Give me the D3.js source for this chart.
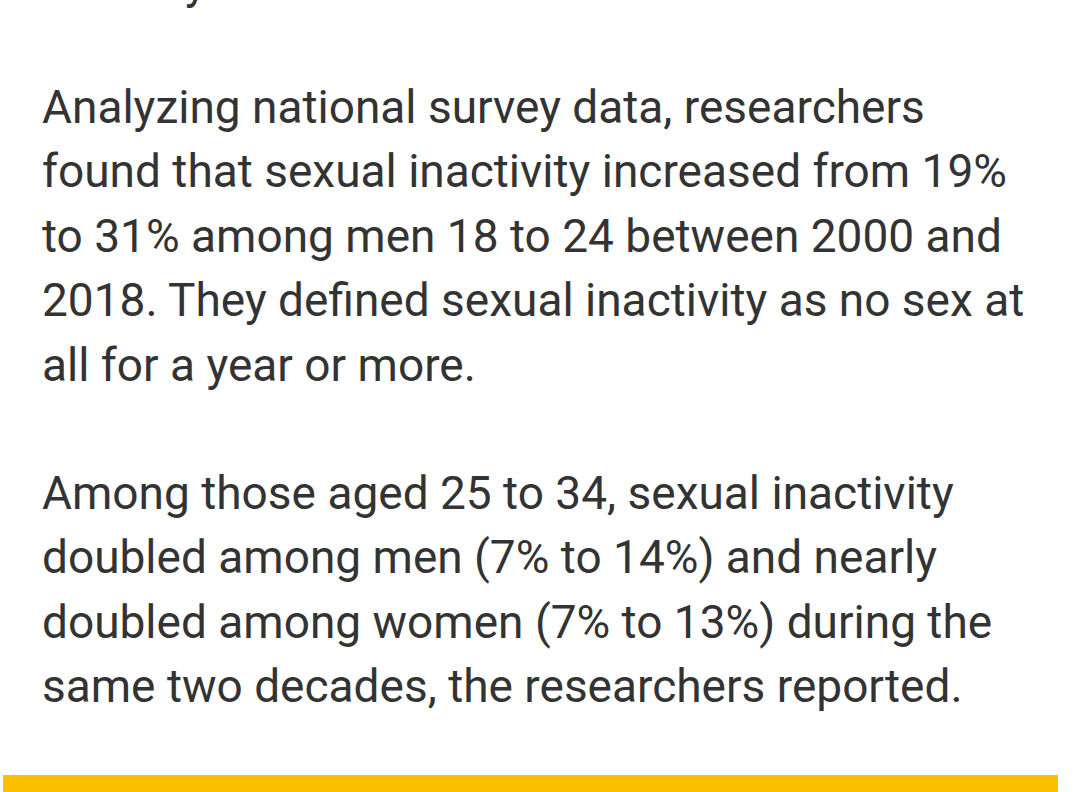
<!DOCTYPE html>
<html>
<head>
<meta charset="utf-8">
<script src="https://cdn.jsdelivr.net/npm/d3@7"></script>
<style>
  html, body { margin: 0; padding: 0; background: #fff; }
  svg { display: block; }
  .para { font-family: Roboto, "Noto Sans", sans-serif; fill: #333333; }
</style>
</head>
<body>
<svg width="1080" height="792"></svg>
<script>
// text content, one entry per rendered line
const paragraphOne = [
  "Analyzing national survey data, researchers",
  "found that sexual inactivity increased from 19%",
  "to 31% among men 18 to 24 between 2000 and",
  "2018. They defined sexual inactivity as no sex at",
  "all for a year or more."
];
const paragraphTwo = [
  "Among those aged 25 to 34, sexual inactivity",
  "doubled among men (7% to 14%) and nearly",
  "doubled among women (7% to 13%) during the",
  "same two decades, the researchers reported."
];
// tail of the line cut off at the top edge
const cutLine = ["y"];

const svg = d3.select("svg");
const W = 1080, H = 792;

svg.append("rect")
  .attr("width", W)
  .attr("height", H)
  .attr("fill", "#fff");

// line index -> baseline
const lineH = 64.4;
const fontSize = 46;
const y1 = d3.scaleLinear().domain([0, 1]).range([123, 123 + lineH]);
const y2 = d3.scaleLinear().domain([0, 1]).range([509, 509 + lineH]);

const drawPara = (lines, yScale, cls) => {
  svg.append("g")
    .attr("class", cls)
    .selectAll("text")
    .data(lines)
    .enter()
    .append("text")
    .attr("class", "para")
    .attr("x", 42)
    .attr("y", (d, i) => yScale(i))
    .attr("font-size", fontSize)
    .text(d => d);
};

drawPara(paragraphOne, y1, "p1");
drawPara(paragraphTwo, y2, "p2");

// only the descender shows, as in the source screenshot
svg.append("text")
  .attr("class", "para")
  .attr("x", 185)
  .attr("y", -1)
  .attr("font-size", fontSize)
  .text(cutLine[0]);

// yellow rule at the bottom
svg.append("rect")
  .attr("x", 3)
  .attr("y", 775)
  .attr("width", 1055)
  .attr("height", H - 775)
  .attr("fill", "#fbbf00");
</script>
</body>
</html>
